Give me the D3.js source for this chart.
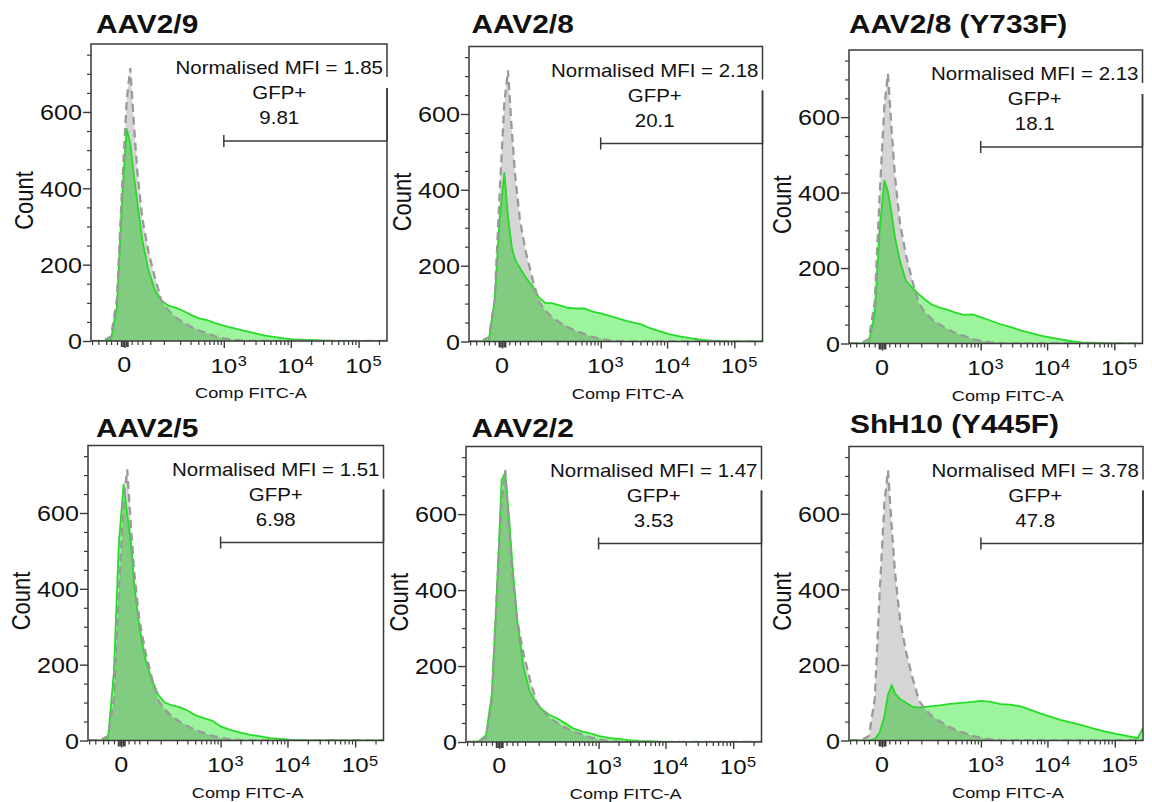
<!DOCTYPE html>
<html>
<head>
<meta charset="utf-8">
<script src="https://cdn.jsdelivr.net/npm/d3@7"></script>
<style>
  body { margin: 0; background: #fff; }
  svg { display: block; font-family: "Liberation Sans", Arial, sans-serif; }
</style>
</head>
<body>
<svg id="chart" width="1152" height="802"></svg>
<script>
// ---- data ----
const titles = ['AAV2/9', 'AAV2/8', 'AAV2/8 (Y733F)', 'AAV2/5', 'AAV2/2', 'ShH10 (Y445F)'];
const mfiValues = ['1.85', '2.18', '2.13', '1.51', '1.47', '3.78'];
const gfpPercent = ['9.81', '20.1', '18.1', '6.98', '3.53', '47.8'];

// Comp FITC-A positions of the histogram points
const fitc = [-70, -50, -35, -20, -10, -3, 3, 8, 14, 20, 30, 45, 65, 90, 120, 160, 220, 300, 400, 550,
  750, 1000, 1400, 2000, 2800, 4000, 5600, 8000, 11000, 16000, 23000, 33000, 47000, 68000, 100000,
  150000, 220000, 262144];

// untransduced control (grey, dashed)
const control = [0, 0, 2, 12, 110, 390, 630, 715, 560, 440, 320, 234, 165, 105, 82, 64, 50, 38, 28, 20,
  12, 7, 3, 1, 0, 0, 0, 0, 0, 0, 0, 0, 0, 0, 0, 0, 0, 0];

// transduced samples (green)
const aav29 = [0, 0, 0, 5, 88, 360, 557, 517, 430, 360, 264, 185, 132, 106, 93, 88, 80, 69, 60, 55,
  46, 40, 34, 27, 21, 15, 11, 7, 4, 3, 2, 1, 0, 0, 0, 0, 0, 0];
const aav28 = [0, 0, 0, 2, 111, 321, 446, 330, 250, 216, 194, 168, 146, 116, 102, 101, 95, 89, 87, 87,
  79, 74, 67, 59, 52, 46, 35, 26, 19, 13, 8, 4, 2, 1, 0, 0, 0, 0];
const aav28y733f = [0, 0, 0, 2, 79, 298, 433, 403, 342, 280, 219, 166, 147, 130, 116, 103, 95, 89, 82, 76,
  77, 70, 61, 51, 44, 35, 28, 21, 16, 11, 6, 3, 2, 1, 0, 0, 0, 0];
const aav25 = [0, 0, 0, 6, 180, 518, 676, 597, 518, 405, 300, 212, 159, 120, 100, 93, 88, 79, 67, 59,
  52, 37, 28, 21, 15, 11, 6, 4, 2, 1, 0, 0, 0, 0, 0, 0, 0, 0];
const aav22 = [0, 1, 2, 18, 128, 391, 690, 710, 592, 469, 320, 198, 132, 102, 84, 71, 62, 49, 36, 28,
  23, 16, 11, 8, 5, 3, 2, 1, 0, 0, 0, 0, 0, 0, 0, 0, 0, 0];
const shh10 = [0, 0, 0, 0, 4, 21, 65, 122, 146, 124, 110, 100, 89, 87, 89, 91, 93, 96, 98, 100,
  102, 105, 102, 96, 95, 90, 81, 71, 63, 54, 47, 40, 32, 25, 18, 12, 6, 34];

const samples = [aav29, aav28, aav28y733f, aav25, aav22, shh10];

const yMajor = [0, 200, 400, 600];
const yMinor = [50, 100, 150, 250, 300, 350, 450, 500, 550, 650, 700, 750];
const xMajor = [0, 1000, 10000, 100000];
const xExponents = ['', '3', '4', '5'];
const xMinor = [-70, -50, -30, -20, -10, 10, 20, 30, 50, 100, 200, 300, 400, 500, 600, 700, 800, 900,
  2000, 3000, 4000, 5000, 6000, 7000, 8000, 9000, 20000, 30000, 40000, 50000, 60000, 70000, 80000,
  90000, 200000];
const xNearZero = [-4, -2, 2, 4];

// ---- layout ----
const boxes = [
  { x: 91, y: 44, w: 296, h: 297, tx: 96, ty: 33 },
  { x: 469, y: 46.5, w: 293.5, h: 295, tx: 471.5, ty: 33 },
  { x: 849, y: 50, w: 293.5, h: 293.5, tx: 849, ty: 33 },
  { x: 88, y: 445.5, w: 295.5, h: 295, tx: 96, ty: 437 },
  { x: 466, y: 446.5, w: 295.5, h: 295.5, tx: 471.5, ty: 437 },
  { x: 849, y: 446.5, w: 294, h: 294, tx: 850, ty: 433 }
];
const SX = 1.17; // the source figure is stretched horizontally
const ink = '#3a3a3a';
const fontStack = '"Liberation Sans", Arial, sans-serif';

const svg = d3.select('#chart');

function label(g, x, y, str, size, anchor, weight) {
  return g.append('text')
    .attr('transform', `translate(${x},${y}) scale(${SX},1)`)
    .attr('text-anchor', anchor)
    .attr('font-family', fontStack)
    .attr('font-size', size)
    .attr('font-weight', weight || 'normal')
    .attr('fill', '#111')
    .text(str);
}

function cleanAxis(sel) {
  sel.attr('font-family', null).attr('font-size', null);
  sel.select('.domain').remove();
}

boxes.forEach((b, i) => {
  const g = svg.append('g');
  const x = d3.scaleSymlog().constant(35.4).domain([-74, 262144]).range([b.x, b.x + b.w]);
  const y = d3.scaleLinear().domain([0, 778]).range([b.y + b.h, b.y]);

  const clipId = 'clip' + i;
  g.append('clipPath').attr('id', clipId)
    .append('rect').attr('x', b.x).attr('y', b.y).attr('width', b.w).attr('height', b.h);

  const area = d3.area().x((d, j) => x(fitc[j])).y0(y(0)).y1(d => y(d));
  const line = d3.line().x((d, j) => x(fitc[j])).y(d => y(d));

  const plot = g.append('g').attr('clip-path', `url(#${clipId})`);
  plot.append('path').attr('d', area(control)).attr('fill', '#d5d5d5');
  plot.append('path').attr('d', area(samples[i])).attr('fill', '#9cf59c')
    .style('mix-blend-mode', 'multiply');
  plot.append('path').attr('d', line(samples[i])).attr('fill', 'none')
    .attr('stroke', '#26dc26').attr('stroke-width', 1.8);
  plot.append('path').attr('d', line(control)).attr('fill', 'none')
    .attr('stroke', '#9a9a9a').attr('stroke-width', 2.3).attr('stroke-dasharray', '8,5');

  // frame
  g.append('rect').attr('x', b.x).attr('y', b.y).attr('width', b.w).attr('height', b.h)
    .attr('fill', 'none').attr('stroke', ink).attr('stroke-width', 1.5);
  g.append('line').attr('x1', b.x + b.w).attr('x2', b.x + b.w)
    .attr('y1', b.y + 33).attr('y2', b.y + 44).attr('stroke', '#fff').attr('stroke-width', 3);

  // y axis
  const ya = g.append('g').attr('transform', `translate(${b.x},0)`)
    .call(d3.axisLeft(y).tickValues(yMajor).tickSize(8).tickSizeOuter(0).tickPadding(0))
    .call(cleanAxis);
  ya.selectAll('line').attr('stroke', ink).attr('stroke-width', 1.4);
  ya.selectAll('text')
    .attr('transform', `scale(${SX},1)`).attr('x', -9 / SX).attr('dy', '0.36em')
    .attr('font-family', fontStack).attr('font-size', 21.5).attr('fill', '#111');
  const ym = g.append('g').attr('transform', `translate(${b.x},0)`)
    .call(d3.axisLeft(y).tickValues(yMinor).tickSize(4).tickFormat(''))
    .call(cleanAxis);
  ym.selectAll('line').attr('stroke', ink).attr('stroke-width', 1.2);

  // x axis
  const base = b.y + b.h;
  const xa = g.append('g').attr('transform', `translate(0,${base})`)
    .call(d3.axisBottom(x).tickValues(xMajor).tickSize(7).tickFormat(''))
    .call(cleanAxis);
  xa.selectAll('line').attr('stroke', ink).attr('stroke-width', 1.4);
  const xm = g.append('g').attr('transform', `translate(0,${base})`)
    .call(d3.axisBottom(x).tickValues(xMinor).tickSize(4).tickFormat(''))
    .call(cleanAxis);
  xm.selectAll('line').attr('stroke', ink).attr('stroke-width', 1.2);
  const xz = g.append('g').attr('transform', `translate(0,${base})`)
    .call(d3.axisBottom(x).tickValues(xNearZero).tickSize(6).tickFormat(''))
    .call(cleanAxis);
  xz.selectAll('line').attr('stroke', ink).attr('stroke-width', 1.6);

  xMajor.forEach((v, k) => {
    if (xExponents[k] === '') {
      label(g, x(v), base + 31, '0', 21.5, 'middle');
    } else {
      label(g, x(v), base + 31.5, '10', 20.5, 'middle');
      label(g, x(v) + 0.556 * 20.5 * SX + 0.5, base + 25, xExponents[k], 14, 'start');
    }
  });

  label(g, b.x + b.w / 2 + 12, base + 57, 'Comp FITC-A', 15.5, 'middle');

  g.append('text')
    .attr('transform', `translate(${b.x - 58},${b.y + b.h / 2 + 8}) scale(${SX},1) rotate(-90)`)
    .attr('text-anchor', 'middle').attr('font-family', fontStack)
    .attr('font-size', 22).attr('fill', '#111')
    .text('Count');

  label(g, b.tx, b.ty, titles[i], 25.5, 'start', 'bold');

  // gate annotation
  const right = b.x + b.w - 4;
  const mfiText = label(g, right, b.y + 30, 'Normalised MFI = ' + mfiValues[i], 17.5, 'end');
  const cx = right - mfiText.node().getComputedTextLength() * SX / 2;
  label(g, cx, b.y + 55, 'GFP+', 17.5, 'middle');
  label(g, cx, b.y + 80, gfpPercent[i], 17.5, 'middle');

  const gy = b.y + 97;
  const gx0 = x(1000);
  const gx1 = b.x + b.w;
  g.append('line').attr('x1', gx0).attr('x2', gx1).attr('y1', gy).attr('y2', gy)
    .attr('stroke', ink).attr('stroke-width', 1.5);
  g.append('line').attr('x1', gx0).attr('x2', gx0).attr('y1', gy - 6).attr('y2', gy + 6)
    .attr('stroke', ink).attr('stroke-width', 1.5);
  g.append('line').attr('x1', gx1).attr('x2', gx1).attr('y1', b.y + 44).attr('y2', gy)
    .attr('stroke', ink).attr('stroke-width', 1.5);
});
</script>
</body>
</html>
